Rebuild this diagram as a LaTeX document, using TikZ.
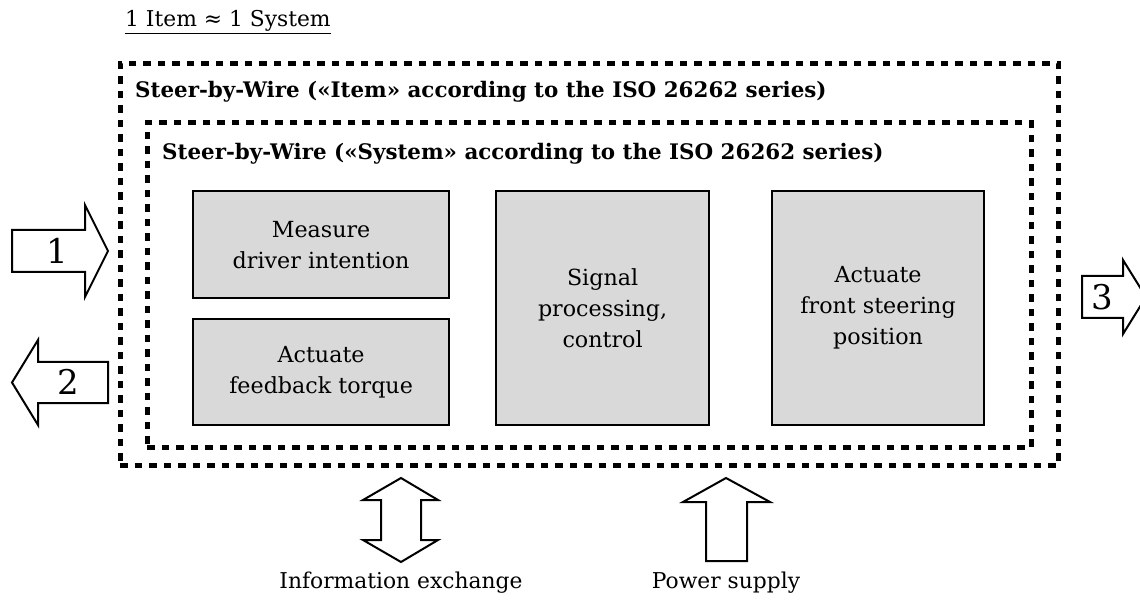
\documentclass[tikz,border=0pt]{standalone}
\usepackage{fontspec}
\setmainfont{DejaVu Serif}
\definecolor{boxgray}{HTML}{D9D9D9}
\begin{document}
\begin{tikzpicture}[x=1pt,y=-1pt,
  dotbox/.style={draw, line width=4.8pt, dash pattern=on 7.5pt off 7pt, inner sep=0pt},
  func/.style={draw, line width=2.2pt, fill=boxgray, align=center,
    font=\fontsize{22.2}{31}\selectfont, inner sep=0pt},
  bigarrow/.style={draw, line width=2pt, fill=white, line join=miter},
  num/.style={font=\fontsize{34}{38}\selectfont, inner sep=0pt},
  lbl/.style={font=\fontsize{21.8}{25}\selectfont, inner sep=0pt},
  ttl/.style={font=\bfseries\fontsize{21.4}{25}\selectfont, inner sep=0pt}]
\useasboundingbox (0,0) rectangle (1140,601);

% title
\node[lbl, anchor=base west] (top) at (125,27) {\underline{1 Item ≈ 1 System}};

% dotted containers
\node[dotbox, anchor=north west, minimum width=938pt, minimum height=402pt] (item) at (118,61) {};
\node[dotbox, anchor=north west, minimum width=884pt, minimum height=325pt] (sys) at (145,120) {};
\node[ttl, anchor=base west] (itemtitle) at (135,98) {Steer-by-Wire («Item» according to the ISO 26262 series)};
\node[ttl, anchor=base west] (systitle) at (162,160) {Steer-by-Wire («System» according to the ISO 26262 series)};

% function boxes
\node[func, anchor=north west, minimum width=256pt, minimum height=107pt] (measure) at (192,190) {Measure\\driver intention};
\node[func, anchor=north west, minimum width=256pt, minimum height=106pt] (feedback) at (192,318) {Actuate\\feedback torque};
\node[func, anchor=north west, minimum width=213pt, minimum height=234pt] (signal) at (495,190) {Signal\\processing,\\control};
\node[func, anchor=north west, minimum width=212pt, minimum height=234pt] (front) at (771,190) {Actuate\\front steering\\position};

% side arrows
\draw[bigarrow] (12,230) -- (85,230) -- (85,205) -- (108,251) -- (85,297) -- (85,272) -- (12,272) -- cycle;
\node[num] (n1) at (57,251) {1};
\draw[bigarrow] (108,362) -- (38,362) -- (38,340) -- (12,382.5) -- (38,425) -- (38,403) -- (108,403) -- cycle;
\node[num] (n2) at (68,382) {2};
\draw[bigarrow] (1082,276) -- (1123,276) -- (1123,260) -- (1146,297) -- (1123,334) -- (1123,318) -- (1082,318) -- cycle;
\node[num] (n3) at (1102,297) {3};

% bottom arrows
\draw[bigarrow] (401,478) -- (438,500) -- (421,500) -- (421,540) -- (438,540) -- (401,562) -- (363,540) -- (381,540) -- (381,500) -- (363,500) -- cycle;
\draw[bigarrow] (726,478) -- (770,502) -- (747,502) -- (747,561) -- (706,561) -- (706,502) -- (683,502) -- cycle;
\node[lbl, anchor=base] (info) at (401,588) {Information exchange};
\node[lbl, anchor=base] (power) at (726,588) {Power supply};
\end{tikzpicture}
\end{document}
